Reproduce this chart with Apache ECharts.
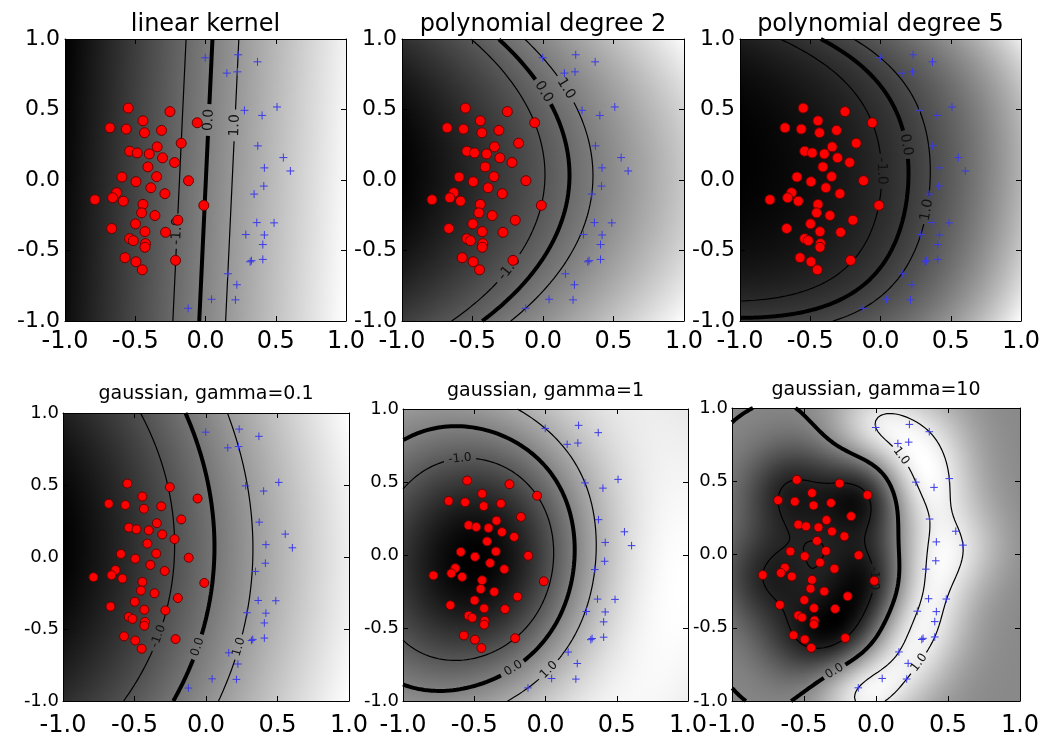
<!DOCTYPE html>
<html>
<head>
<meta charset="utf-8">
<script src="https://cdn.jsdelivr.net/npm/echarts@6/dist/echarts.min.js"></script>
<style>
  html, body { margin: 0; padding: 0; background: #fff; }
  #chart { width: 1048px; height: 740px; }
</style>
</head>
<body>
<div id="chart"></div>
<script>
// Two-class training set: class -1 (red dots) and class +1 (blue crosses)
const redX = [-0.550,-0.253,-0.445,-0.059,-0.680,-0.564,-0.434,-0.313,-0.173,-0.540,-0.486,-0.400,-0.344,-0.306,-0.220,-0.410,-0.348,-0.595,-0.495,-0.121,-0.389,-0.633,-0.661,-0.585,-0.787,-0.289,-0.445,-0.012,-0.455,-0.360,-0.197,-0.498,-0.668,-0.431,-0.284,-0.540,-0.514,-0.427,-0.431,-0.573,-0.495,-0.450,-0.213];
const redY = [0.510,0.485,0.420,0.406,0.370,0.361,0.335,0.352,0.261,0.204,0.192,0.185,0.235,0.157,0.124,0.093,0.024,0.021,-0.012,-0.005,-0.055,-0.090,-0.126,-0.150,-0.140,-0.097,-0.173,-0.180,-0.233,-0.252,-0.285,-0.311,-0.344,-0.366,-0.371,-0.416,-0.430,-0.451,-0.477,-0.551,-0.580,-0.637,-0.570];
const blueX = [-0.002,0.232,0.370,0.152,0.227,0.277,0.403,0.509,0.372,0.554,0.604,0.419,0.415,0.346,0.365,0.488,0.287,0.419,0.408,0.408,0.318,0.327,0.159,0.223,0.043,0.213,-0.123];
const blueY = [0.867,0.888,0.838,0.758,0.767,0.494,0.458,0.518,0.242,0.159,0.064,0.086,-0.043,-0.100,-0.302,-0.304,-0.387,-0.390,-0.458,-0.563,-0.580,-0.572,-0.665,-0.743,-0.846,-0.850,-0.910];

const panelTitles = ['linear kernel', 'polynomial degree 2', 'polynomial degree 5',
                     'gaussian, gamma=0.1', 'gaussian, gamma=1', 'gaussian, gamma=10'];
const kernelTypes = ['linear', 'poly', 'poly', 'rbf', 'rbf', 'rbf'];
const kernelParams = [0, 2, 5, 0.1, 1, 10];
const softMarginC = 10;
const contourLevels = [-1, 0, 1];

// ---- layout ----
const panelBoxes = [
  { left: 65,  top: 39,  width: 281, height: 282 },
  { left: 402, top: 39,  width: 282, height: 282 },
  { left: 740, top: 39,  width: 281, height: 282 },
  { left: 63,  top: 413, width: 286, height: 288 },
  { left: 403, top: 409, width: 285, height: 292 },
  { left: 732, top: 408, width: 288, height: 293 }
];
const titleCentres = [[205.5, 24.7], [543, 24.7], [880.5, 24.7], [206, 394.4], [545.5, 390.9], [876, 389.9]];
// where the inline contour labels sit: [x, y, level]
const labelSpots = [
  [[0.012, 0.43, 0], [0.225, 0.39, 1], [-0.225, -0.36, -1]],
  [[0.026, 0.634, 0], [0.18, 0.658, 1], [-0.306, -0.577, -1]],
  [[0.201, 0.254, 0], [0.036, 0.064, -1], [0.344, -0.221, 1]],
  [[-0.077, -0.624, 0], [0.26, -0.635, 1], [-0.39, -0.531, -1]],
  [[-0.59, 0.566, -1], [-0.251, -0.742, 0], [0.006, -0.772, 1]],
  [[0.189, 0.681, 1], [0.305, -0.742, 1], [-0.286, -0.8, 0], [0.015, -0.16, -1]]
];
const FONT = '"DejaVu Sans", "Liberation Sans", sans-serif';
const GRID_N = 161;

// ---- soft-margin SVM (SMO with maximal violating pair) ----
function kern(type, param, ax, ay, px, py) {
  if (type === 'linear') return ax * px + ay * py;
  if (type === 'poly') return Math.pow(1 + ax * px + ay * py, param);
  const dx = ax - px, dy = ay - py;
  return Math.exp(-param * (dx * dx + dy * dy));
}

function trainSVM(type, param, C) {
  const X = redX.map((x, i) => [x, redY[i]]).concat(blueX.map((x, i) => [x, blueY[i]]));
  const Y = redX.map(() => -1).concat(blueX.map(() => 1));
  const n = X.length;
  const K = X.map(a => X.map(b => kern(type, param, a[0], a[1], b[0], b[1])));
  const alpha = new Array(n).fill(0), G = new Array(n).fill(-1);
  const eps = 1e-4, tau = 1e-12;
  for (let iter = 0; iter < 200000; iter++) {
    let gmax = -Infinity, gmin = Infinity, i = -1, j = -1;
    for (let t = 0; t < n; t++) {
      const v = -Y[t] * G[t];
      const up = (Y[t] === 1 && alpha[t] < C) || (Y[t] === -1 && alpha[t] > 0);
      const low = (Y[t] === -1 && alpha[t] < C) || (Y[t] === 1 && alpha[t] > 0);
      if (up && v > gmax) { gmax = v; i = t; }
      if (low && v < gmin) { gmin = v; j = t; }
    }
    if (i < 0 || j < 0 || gmax - gmin < eps) break;
    const ai = alpha[i], aj = alpha[j];
    const Qij = Y[i] * Y[j] * K[i][j];
    if (Y[i] !== Y[j]) {
      let quad = K[i][i] + K[j][j] + 2 * Qij;
      if (quad <= 0) quad = tau;
      const delta = (-G[i] - G[j]) / quad;
      const diff = alpha[i] - alpha[j];
      alpha[i] += delta; alpha[j] += delta;
      if (diff > 0) { if (alpha[j] < 0) { alpha[j] = 0; alpha[i] = diff; } }
      else { if (alpha[i] < 0) { alpha[i] = 0; alpha[j] = -diff; } }
      if (diff > 0) { if (alpha[i] > C) { alpha[i] = C; alpha[j] = C - diff; } }
      else { if (alpha[j] > C) { alpha[j] = C; alpha[i] = C + diff; } }
    } else {
      let quad = K[i][i] + K[j][j] - 2 * Qij;
      if (quad <= 0) quad = tau;
      const delta = (G[i] - G[j]) / quad;
      const sum = alpha[i] + alpha[j];
      alpha[i] -= delta; alpha[j] += delta;
      if (sum > C) { if (alpha[i] > C) { alpha[i] = C; alpha[j] = sum - C; } }
      else { if (alpha[j] < 0) { alpha[j] = 0; alpha[i] = sum; } }
      if (sum > C) { if (alpha[j] > C) { alpha[j] = C; alpha[i] = sum - C; } }
      else { if (alpha[i] < 0) { alpha[i] = 0; alpha[j] = sum; } }
    }
    const dai = alpha[i] - ai, daj = alpha[j] - aj;
    for (let k = 0; k < n; k++) {
      G[k] += Y[k] * Y[i] * K[k][i] * dai + Y[k] * Y[j] * K[k][j] * daj;
    }
  }
  let ub = Infinity, lb = -Infinity, sumFree = 0, nFree = 0;
  for (let t = 0; t < n; t++) {
    const yG = Y[t] * G[t];
    if (alpha[t] >= C) { if (Y[t] === -1) ub = Math.min(ub, yG); else lb = Math.max(lb, yG); }
    else if (alpha[t] <= 0) { if (Y[t] === 1) ub = Math.min(ub, yG); else lb = Math.max(lb, yG); }
    else { sumFree += yG; nFree++; }
  }
  const rho = nFree > 0 ? sumFree / nFree : (ub + lb) / 2;
  const sv = [];
  for (let t = 0; t < n; t++) if (alpha[t] > 0) sv.push([X[t][0], X[t][1], alpha[t] * Y[t]]);
  return { sv, rho };
}

function evalField(k) {
  const type = kernelTypes[k], param = kernelParams[k];
  const model = trainSVM(type, param, softMarginC);
  const xs = [], ys = [];
  for (let i = 0; i < GRID_N; i++) { xs.push(-1 + 2 * i / (GRID_N - 1)); ys.push(-1 + 2 * i / (GRID_N - 1)); }
  const F = [];
  let lo = Infinity, hi = -Infinity;
  for (let j = 0; j < GRID_N; j++) {
    const row = [];
    for (let i = 0; i < GRID_N; i++) {
      let v = -model.rho;
      for (const s of model.sv) v += s[2] * kern(type, param, s[0], s[1], xs[i], ys[j]);
      row.push(v);
      if (v < lo) lo = v;
      if (v > hi) hi = v;
    }
    F.push(row);
  }
  return { xs, ys, F, lo, hi };
}

// ---- marching squares ----
function traceContours(F, xs, ys, level) {
  const n = xs.length, pts = new Map(), segs = [];
  const above = (i, j) => F[j][i] > level;
  function edge(key, i0, j0, i1, j1) {
    if (!pts.has(key)) {
      const v0 = F[j0][i0] - level, v1 = F[j1][i1] - level;
      const t = v0 / (v0 - v1);
      pts.set(key, [xs[i0] + (xs[i1] - xs[i0]) * t, ys[j0] + (ys[j1] - ys[j0]) * t]);
    }
    return key;
  }
  for (let j = 0; j < n - 1; j++) {
    for (let i = 0; i < n - 1; i++) {
      const a = above(i, j), b = above(i + 1, j), c = above(i + 1, j + 1), d = above(i, j + 1);
      if (a === b && b === c && c === d) continue;
      const e = [
        a !== b ? edge('h' + i + '_' + j, i, j, i + 1, j) : null,
        b !== c ? edge('v' + (i + 1) + '_' + j, i + 1, j, i + 1, j + 1) : null,
        d !== c ? edge('h' + i + '_' + (j + 1), i, j + 1, i + 1, j + 1) : null,
        a !== d ? edge('v' + i + '_' + j, i, j, i, j + 1) : null
      ];
      const hit = e.filter(Boolean);
      if (hit.length === 2) segs.push(hit);
      else if (hit.length === 4) {
        const centre = (F[j][i] + F[j][i + 1] + F[j + 1][i + 1] + F[j + 1][i]) / 4 > level;
        if (centre === a) { segs.push([e[0], e[1]]); segs.push([e[2], e[3]]); }
        else { segs.push([e[3], e[0]]); segs.push([e[1], e[2]]); }
      }
    }
  }
  const adj = new Map();
  segs.forEach((s, idx) => s.forEach(key => {
    if (!adj.has(key)) adj.set(key, []);
    adj.get(key).push(idx);
  }));
  const used = new Array(segs.length).fill(false);
  const lines = [];
  const walk = (start, key) => {
    const out = [pts.get(key)];
    let s = start, k = key;
    while (s !== undefined) {
      used[s] = true;
      const nk = segs[s][0] === k ? segs[s][1] : segs[s][0];
      out.push(pts.get(nk));
      k = nk;
      s = adj.get(k).find(t => !used[t]);
    }
    return out;
  };
  adj.forEach((list, key) => { if (list.length === 1 && !used[list[0]]) lines.push(walk(list[0], key)); });
  segs.forEach((s, idx) => { if (!used[idx]) lines.push(walk(idx, s[0])); });
  return lines;
}

const levelText = lv => lv.toFixed(1);
const labelWidth = (lv, px) => (lv < 0 ? 1.951 : 1.59) * px;

// inline labels: pick the nearest contour vertex, align text with the line and open a gap
function placeLabels(lines, spots, sx, sy, fontPx) {
  const labels = [];
  spots.forEach(([ax, ay, lv]) => {
    let best = null, bd = Infinity;
    lines.forEach(ln => {
      if (ln.level !== lv) return;
      ln.pts.forEach((p, pi) => {
        const dx = (p[0] - ax) * sx, dy = (p[1] - ay) * sy, d = dx * dx + dy * dy;
        if (d < bd) { bd = d; best = { ln, pi }; }
      });
    });
    if (!best) return;
    const P = best.ln.pts, n = P.length;
    const i0 = Math.max(0, best.pi - 4), i1 = Math.min(n - 1, best.pi + 4);
    let ang = Math.atan2((P[i1][1] - P[i0][1]) * sy, (P[i1][0] - P[i0][0]) * sx) * 180 / Math.PI;
    if (ang > 90) ang -= 180;
    if (ang <= -90) ang += 180;
    const c = P[best.pi];
    best.ln.cuts.push({ x: c[0], y: c[1], half: labelWidth(lv, fontPx) / 2 + 3 });
    labels.push([c[0], c[1], ang, lv]);
  });
  const pieces = [];
  lines.forEach(ln => {
    let cur = [];
    ln.pts.forEach(p => {
      const hidden = ln.cuts.some(c => Math.hypot((p[0] - c.x) * sx, (p[1] - c.y) * sy) < c.half);
      if (hidden) { if (cur.length > 1) pieces.push({ level: ln.level, pts: cur }); cur = []; }
      else cur.push(p);
    });
    if (cur.length > 1) pieces.push({ level: ln.level, pts: cur });
  });
  return { pieces, labels };
}

function grayOf(v, lo, hi) {
  const g = Math.round(255 * Math.min(1, Math.max(0, (v - lo) / (hi - lo))));
  return 'rgb(' + g + ',' + g + ',' + g + ')';
}

// ---- assemble option ----
const grids = [], xAxes = [], yAxes = [], series = [], graphics = [];

for (let k = 0; k < 6; k++) {
  const box = panelBoxes[k];
  const topRow = k < 3;
  grids.push({ left: box.left, top: box.top, width: box.width, height: box.height,
               show: false, containLabel: false, outerBoundsMode: 'none' });

  const axisBase = (showLabel, fontSize, margin) => ({
    type: 'value', gridIndex: k, min: -1, max: 1, interval: 0.5, z: 10, silent: true,
    axisLine: { show: true, onZero: false, lineStyle: { color: '#000', width: 1 } },
    axisTick: { show: true, inside: true, length: 5, lineStyle: { color: '#000', width: 1 } },
    axisLabel: { show: showLabel, fontSize, margin, color: '#000', fontFamily: FONT,
                 formatter: v => v.toFixed(1) },
    splitLine: { show: false },
    axisPointer: { show: false }
  });
  xAxes.push(Object.assign(axisBase(true, 24, topRow ? 9 : 13), { position: 'bottom' }));
  xAxes.push(Object.assign(axisBase(false, 12, 0), { position: 'top' }));
  yAxes.push(Object.assign(axisBase(true, topRow ? 22 : 18, topRow ? 5 : 4), { position: 'left' }));
  yAxes.push(Object.assign(axisBase(false, 12, 0), { position: 'right' }));

  const xi = 2 * k, yi = 2 * k;
  const { xs, ys, F, lo, hi } = evalField(k);

  // shaded decision function, one gradient strip per grid row
  const h = ys[1] - ys[0];
  const rowFills = ys.map((y, j) => ({
    type: 'linear', x: 0, y: 0, x2: 1, y2: 0,
    colorStops: xs.map((x, i) => ({ offset: i / (xs.length - 1), color: grayOf(F[j][i], lo, hi) }))
  }));
  series.push({
    type: 'custom', xAxisIndex: xi, yAxisIndex: yi, z: 1, silent: true, animation: false, clip: true,
    data: ys.map((y, j) => [0, y, j]),
    renderItem: (params, api) => {
      const y = api.value(1), j = api.value(2);
      const p0 = api.coord([-1, Math.min(1, y + h / 2)]);
      const p1 = api.coord([1, Math.max(-1, y - h / 2)]);
      return { type: 'rect',
               shape: { x: p0[0], y: p0[1] - 0.4, width: p1[0] - p0[0], height: p1[1] - p0[1] + 0.8 },
               style: { fill: rowFills[j] } };
    }
  });

  // contours at -1, 0, 1
  const lines = [];
  contourLevels.forEach(lv => traceContours(F, xs, ys, lv).forEach(pts => lines.push({ level: lv, pts, cuts: [] })));
  const sx = box.width / 2, sy = box.height / 2;
  const labelPx = topRow ? 14 : 12;
  const { pieces, labels } = placeLabels(lines, labelSpots[k], sx, sy, labelPx);
  pieces.forEach(pc => {
    series.push({
      type: 'line', xAxisIndex: xi, yAxisIndex: yi, z: 3, silent: true, animation: false,
      showSymbol: false, symbol: 'none', clip: true,
      lineStyle: { color: '#000', width: pc.level === 0 ? 4 : 1.2 },
      data: pc.pts
    });
  });
  series.push({
    type: 'custom', xAxisIndex: xi, yAxisIndex: yi, z: 4, silent: true, animation: false,
    data: labels,
    renderItem: (params, api) => {
      const p = api.coord([api.value(0), api.value(1)]);
      return { type: 'text', x: p[0], y: p[1], rotation: api.value(2) * Math.PI / 180,
               style: { text: levelText(api.value(3)), x: 0, y: 0, fill: '#111',
                        font: labelPx + 'px ' + FONT, align: 'center', verticalAlign: 'middle' } };
    }
  });

  // class +1: blue crosses
  const arm = topRow ? 4 : 3.8;
  series.push({
    type: 'custom', xAxisIndex: xi, yAxisIndex: yi, z: 5, silent: true, animation: false,
    data: blueX.map((x, i) => [x, blueY[i]]),
    renderItem: (params, api) => {
      const p = api.coord([api.value(0), api.value(1)]);
      const st = { stroke: '#3b3be8', lineWidth: 1 };
      return { type: 'group', children: [
        { type: 'line', shape: { x1: p[0] - arm, y1: p[1], x2: p[0] + arm, y2: p[1] }, style: st },
        { type: 'line', shape: { x1: p[0], y1: p[1] - arm, x2: p[0], y2: p[1] + arm }, style: st }
      ] };
    }
  });
  // class -1: red dots
  series.push({
    type: 'scatter', xAxisIndex: xi, yAxisIndex: yi, z: 6, silent: true, animation: false,
    symbol: 'circle', symbolSize: topRow ? 10 : 9,
    itemStyle: { color: '#ff0000', borderColor: '#6a0000', borderWidth: 1, opacity: 1 },
    data: redX.map((x, i) => [x, redY[i]])
  });

  graphics.push({
    type: 'text', x: titleCentres[k][0], y: titleCentres[k][1], silent: true,
    style: { text: panelTitles[k], fill: '#000', font: (topRow ? 24 : 19) + 'px ' + FONT,
             align: 'center', verticalAlign: 'middle' }
  });
}

const chart = echarts.init(document.getElementById('chart'), null, { renderer: 'canvas' });
chart.setOption({
  animation: false,
  backgroundColor: '#fff',
  textStyle: { fontFamily: FONT },
  grid: grids,
  xAxis: xAxes,
  yAxis: yAxes,
  series: series,
  graphic: { elements: graphics }
});
</script>
</body>
</html>
